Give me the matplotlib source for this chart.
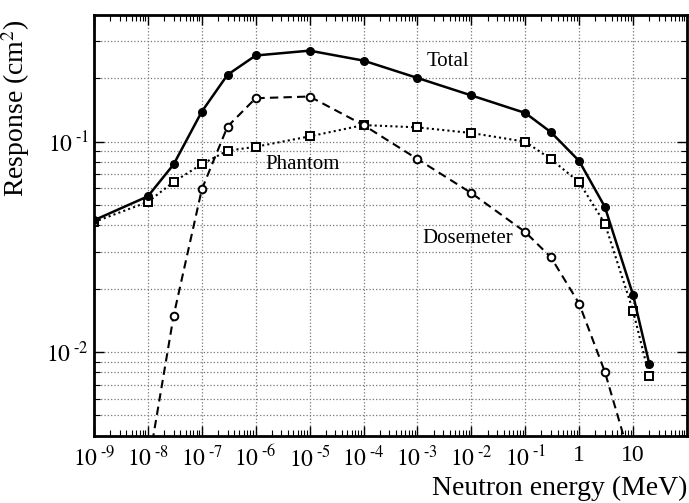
import numpy as np
import matplotlib
matplotlib.use('Agg')
import matplotlib.pyplot as plt
from matplotlib.ticker import FixedLocator, FixedFormatter, LogLocator, NullFormatter

# Neutron energy (MeV) for each series
energy_total = [1e-9, 1e-8, 3e-8, 1e-7, 3e-7, 1e-6, 1e-5, 1e-4, 1e-3, 1e-2, 1e-1, 0.3, 1, 3, 10, 20]
resp_total = [0.0423, 0.055, 0.078, 0.139, 0.208, 0.257, 0.271, 0.243, 0.201, 0.166, 0.137, 0.111, 0.081, 0.049, 0.0187, 0.0088]

energy_phantom = [1e-9, 1e-8, 3e-8, 1e-7, 3e-7, 1e-6, 1e-5, 1e-4, 1e-3, 1e-2, 1e-1, 0.3, 1, 3, 10, 20]
resp_phantom = [0.0415, 0.0517, 0.0644, 0.0782, 0.0906, 0.0946, 0.106, 0.120, 0.117, 0.110, 0.100, 0.0826, 0.0642, 0.0408, 0.0157, 0.0077]

energy_dose = [1e-8, 3e-8, 1e-7, 3e-7, 1e-6, 1e-5, 1e-4, 1e-3, 1e-2, 1e-1, 0.3, 1, 3, 10]
resp_dose = [0.0028, 0.01486, 0.0593, 0.118, 0.161, 0.164, 0.120, 0.0827, 0.057, 0.0372, 0.0282, 0.017, 0.00805, 0.0028]

xtick_vals = [1e-9, 1e-8, 1e-7, 1e-6, 1e-5, 1e-4, 1e-3, 1e-2, 1e-1, 1, 10]
xtick_labels = ['$10^{\\;\u20109}$', '$10^{\\;\u20108}$', '$10^{\\;\u20107}$', '$10^{\\;\u20106}$',
                '$10^{\\;\u20105}$', '$10^{\\;\u20104}$', '$10^{\\;\u20103}$', '$10^{\\;\u20102}$',
                '$10^{\\;\u20101}$', '1', '10']
ytick_vals = [1e-2, 1e-1]
ytick_labels = ['$10^{\\;\u20102}$', '$10^{\\;\u20101}$']

plt.rcParams['font.family'] = ['Liberation Serif', 'DejaVu Serif']
plt.rcParams['mathtext.fontset'] = 'stix'

fig = plt.figure(figsize=(6.89, 5.03), dpi=100)
ax = fig.add_axes([0.1364, 0.1338, 0.8606, 0.8362])

ax.plot(energy_total, resp_total, color='black', lw=1.8, marker='o', ms=5.5,
        mfc='black', mec='black', zorder=5)
ax.plot(energy_phantom, resp_phantom, color='black', lw=1.5, ls=(0, (1, 1.5)), marker='s', ms=5.5,
        mfc='white', mec='black', mew=1.4, zorder=4)
ax.plot(energy_dose, resp_dose, color='black', lw=1.5, ls=(0, (4, 2.5)), marker='o', ms=5.5,
        mfc='white', mec='black', mew=1.4, zorder=4)

ax.set_xscale('log')
ax.set_yscale('log')
ax.set_xlim(1e-9, 1e2)
ax.set_ylim(0.004, 0.4)

ax.xaxis.set_major_locator(FixedLocator(xtick_vals))
ax.xaxis.set_major_formatter(FixedFormatter(xtick_labels))
ax.xaxis.set_minor_locator(LogLocator(base=10, subs=np.arange(2, 10), numticks=30))
ax.xaxis.set_minor_formatter(NullFormatter())
ax.yaxis.set_major_locator(FixedLocator(ytick_vals))
ax.yaxis.set_major_formatter(FixedFormatter(ytick_labels))
ax.yaxis.set_minor_locator(LogLocator(base=10, subs=np.arange(2, 10), numticks=30))
ax.yaxis.set_minor_formatter(NullFormatter())

ax.tick_params(which='both', direction='in', top=True, right=True, labelsize=17)
ax.tick_params(which='major', length=7, width=1)
ax.tick_params(which='minor', length=4, width=0.8)
ax.tick_params(axis='x', which='major', pad=7)

ax.grid(True, which='major', axis='both', ls=':', color='#777777', lw=0.9)
ax.grid(True, which='minor', axis='y', ls=':', color='#777777', lw=0.9)

for s in ax.spines.values():
    s.set_linewidth(2)

ax.text(1.5e-3, 0.24, 'Total', fontsize=15, ha='left', va='center')
ax.text(1.5e-6, 0.078, 'Phantom', fontsize=15, ha='left', va='center')
ax.text(1.25e-3, 0.0345, 'Dosemeter', fontsize=15, ha='left', va='center')

ax.set_ylabel(r'Response (cm$^2$)', fontsize=20, labelpad=4)
ax.yaxis.set_label_coords(-0.105, 0.78)
ax.set_xlabel('Neutron energy (MeV)', fontsize=20, loc='right', labelpad=3)

fig.savefig('out.png', dpi=100)
